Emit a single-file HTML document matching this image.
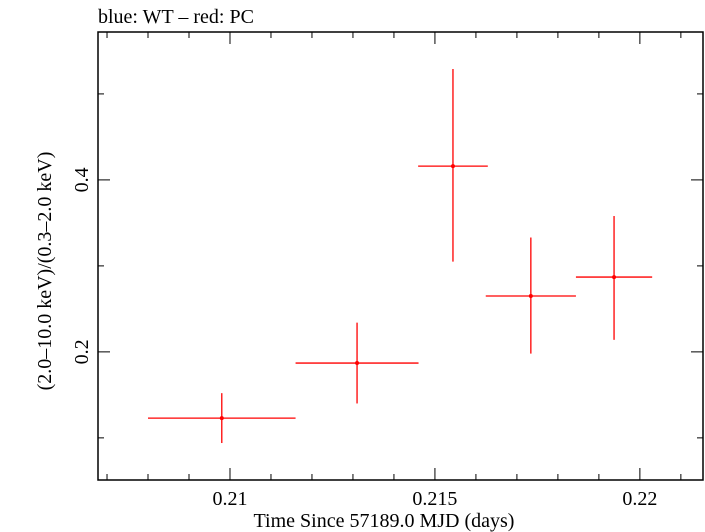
<!DOCTYPE html>
<html><head><meta charset="utf-8"><style>
html,body{margin:0;padding:0;background:#fff;}
svg{display:block;font-family:"Liberation Serif",serif;}
</style></head><body>
<svg id="chart" width="705" height="532" viewBox="0 0 705 532">
<text x="98" y="23" font-size="20">blue: WT – red: PC</text>
<rect x="98" y="32" width="605" height="448" fill="none" stroke="#000" stroke-width="1.5"/>
<g id="ticks"></g>
<g id="marks"></g>
<text x="384" y="527" font-size="20" text-anchor="middle">Time Since 57189.0 MJD (days)</text>
<text transform="translate(51,271) rotate(-90)" font-size="20" text-anchor="middle">(2.0–10.0 keV)/(0.3–2.0 keV)</text>
</svg>
<script>
const xCenters=[0.2098,0.2131,0.21544,0.21734,0.21937];
const xErrs=[0.0018,0.0015,0.00085,0.0011,0.00093];
const yValues=[0.123,0.187,0.416,0.265,0.287];
const yErrHi=[0.029,0.047,0.113,0.068,0.071];
const yErrLo=[0.029,0.047,0.111,0.067,0.073];
const xTickLabels=["0.21","0.215","0.22"];
const yTickLabels=["0.2","0.4"];
const L=98,R=703,T=32,B=480,X0=0.20678,X1=0.22154,Y0=0.051,Y1=0.572;
const sx=v=>L+(v-X0)/(X1-X0)*(R-L);
const sy=v=>B-(v-Y0)/(Y1-Y0)*(B-T);
const NS="http://www.w3.org/2000/svg";
const tk=document.getElementById('ticks'),mk=document.getElementById('marks');
function ln(p,x1,y1,x2,y2,c,w){const e=document.createElementNS(NS,'line');e.setAttribute('x1',x1);e.setAttribute('y1',y1);e.setAttribute('x2',x2);e.setAttribute('y2',y2);e.setAttribute('stroke',c);e.setAttribute('stroke-width',w);p.appendChild(e);return e;}
for(let i=0;i<=15;i++){const v=0.207+i*0.001;if(v>X1)break;const x=sx(v);const major=Math.abs((v*1000)%5)<1e-6||Math.abs((v*1000)%5-5)<1e-6;const len=major?12:6;
let e=ln(tk,x,B,x,B-len,'#000',1);


e=ln(tk,x,T,x,T+len,'#000',1);

}
xTickLabels.forEach(l=>{const t=document.createElementNS(NS,'text');t.setAttribute('x',sx(parseFloat(l)));t.setAttribute('y',505);t.setAttribute('font-size','20');t.setAttribute('text-anchor','middle');t.textContent=l;


tk.appendChild(t);});
for(let i=1;i<=5;i++){const v=i*0.1;const y=sy(v);const major=(i%2==0);const len=major?12:6;
let e=ln(tk,L,y,L+len,y,'#000',1);


e=ln(tk,R,y,R-len,y,'#000',1);

}
yTickLabels.forEach(l=>{const t=document.createElementNS(NS,'text');t.setAttribute('transform','translate(88,'+sy(parseFloat(l))+') rotate(-90)');t.setAttribute('font-size','20');t.setAttribute('text-anchor','middle');t.textContent=l;


tk.appendChild(t);});
xCenters.forEach((xc,i)=>{const g=document.createElementNS(NS,'g');


const y=sy(yValues[i]);
ln(g,sx(xc-xErrs[i]),y,sx(xc+xErrs[i]),y,'#f00',1.3);
ln(g,sx(xc),sy(yValues[i]+yErrHi[i]),sx(xc),sy(yValues[i]-yErrLo[i]),'#f00',1.3);
const c=document.createElementNS(NS,'circle');c.setAttribute('cx',sx(xc));c.setAttribute('cy',y);c.setAttribute('r',2);c.setAttribute('fill','#f00');g.appendChild(c);
mk.appendChild(g);});
</script>
</body></html>
